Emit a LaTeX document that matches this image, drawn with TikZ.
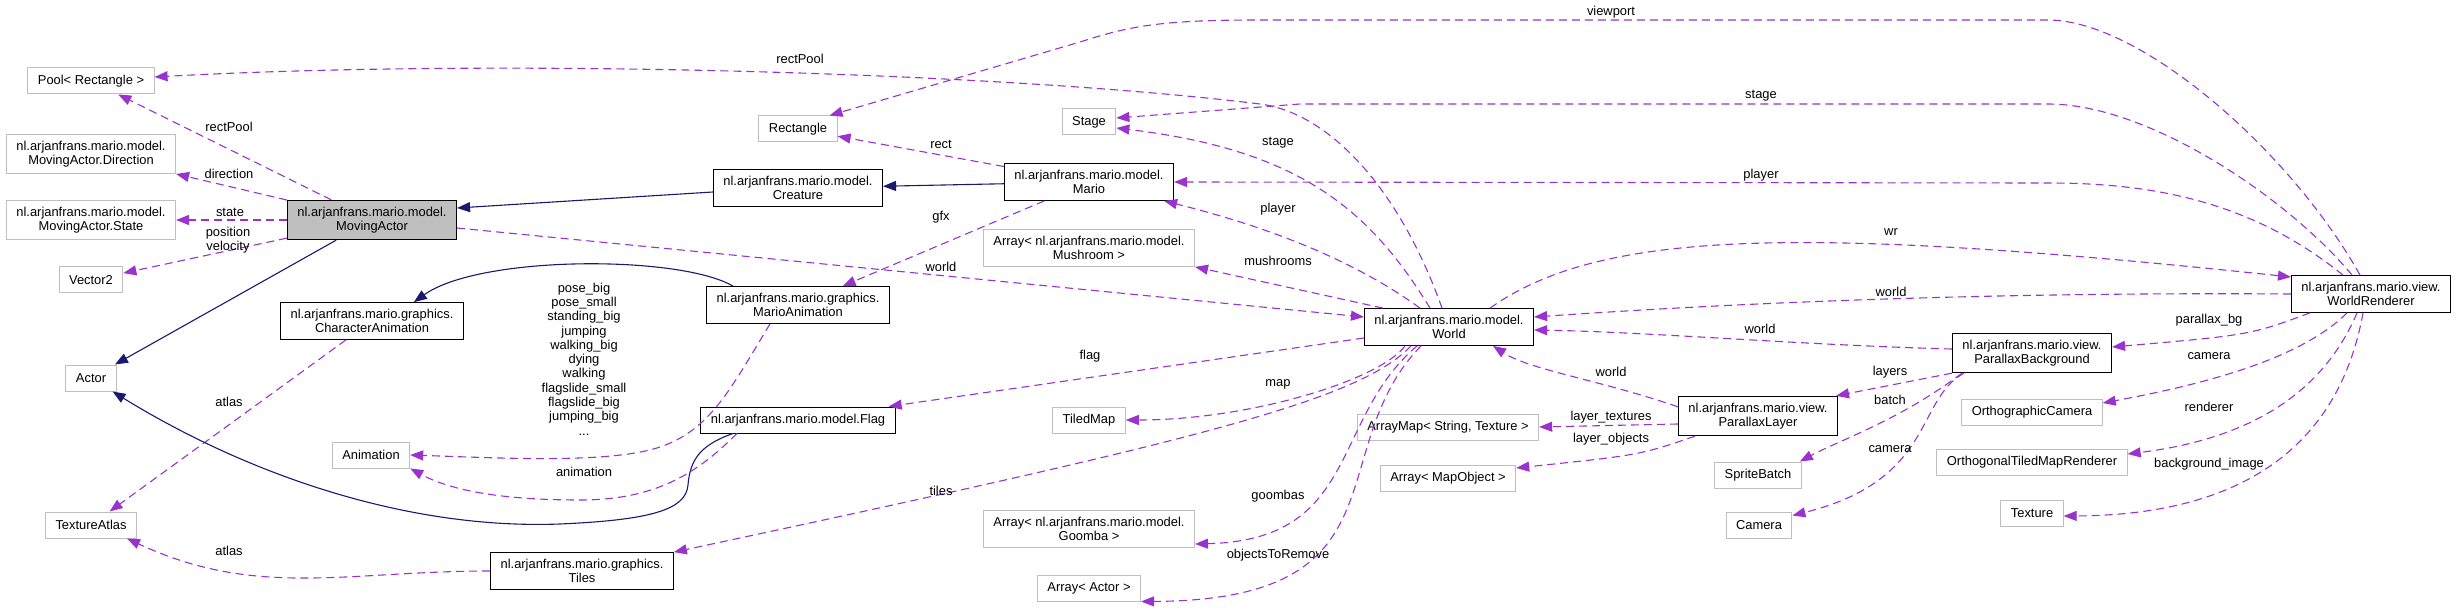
\documentclass[tikz,border=0pt]{standalone}
\usepackage{fontspec}
\setmainfont{Liberation Sans}
\usetikzlibrary{arrows.meta}

\definecolor{usecol}{HTML}{9A32CD}
\definecolor{isacol}{HTML}{191970}
\definecolor{extcol}{HTML}{BFBFBF}

\begin{document}
\begin{tikzpicture}
  [x=1pt,y=-1pt,every node/.style={font=\fontsize{12.9}{14.3}\selectfont},
   cls/.style={draw=black, line width=1pt, align=center, inner xsep=10pt, inner ysep=6.5pt, minimum height=26pt},
   ext/.style={cls, draw=extcol},
   uses/.style={draw=usecol, line width=1.1pt, dash pattern=on 8pt off 5pt, -{Triangle[length=13pt,width=10pt]}},
   isa/.style={draw=isacol, line width=1.1pt, -{Triangle[length=13pt,width=10pt]}},
   lbl/.style={inner sep=0pt, align=center}]
  \useasboundingbox (0,0) rectangle (2459,609);

  % classes
  \node[ext] (pool) at (91,81) {Pool< Rectangle >};
  \node[ext] (dir) at (91,154) {nl.arjanfrans.mario.model.\\MovingActor.Direction};
  \node[ext] (state) at (91,220) {nl.arjanfrans.mario.model.\\MovingActor.State};
  \node[ext] (vec) at (91,280) {Vector2};
  \node[ext] (actor) at (91,378) {Actor};
  \node[ext] (atlas) at (91,525) {TextureAtlas};
  \node[cls, fill=extcol] (moving) at (372,220) {nl.arjanfrans.mario.model.\\MovingActor};
  \node[cls] (charanim) at (372,321) {nl.arjanfrans.mario.graphics.\\CharacterAnimation};
  \node[ext] (anim) at (371,455) {Animation};
  \node[cls] (tiles) at (582,571) {nl.arjanfrans.mario.graphics.\\Tiles};
  \node[ext] (rect) at (798,129) {Rectangle};
  \node[cls] (creature) at (798,188) {nl.arjanfrans.mario.model.\\Creature};
  \node[cls] (marioanim) at (798,305) {nl.arjanfrans.mario.graphics.\\MarioAnimation};
  \node[cls] (flag) at (798,420) {nl.arjanfrans.mario.model.Flag};
  \node[ext] (stage) at (1089,122) {Stage};
  \node[cls] (mario) at (1089,182) {nl.arjanfrans.mario.model.\\Mario};
  \node[ext] (mushrooms) at (1089,248) {Array< nl.arjanfrans.mario.model.\\Mushroom >};
  \node[ext] (tiledmap) at (1089,420) {TiledMap};
  \node[ext] (goombas) at (1089,529) {Array< nl.arjanfrans.mario.model.\\Goomba >};
  \node[ext] (actors) at (1089,588) {Array< Actor >};
  \node[cls] (world) at (1449,327) {nl.arjanfrans.mario.model.\\World};
  \node[ext] (arraymap) at (1448,427) {ArrayMap< String, Texture >};
  \node[ext] (mapobj) at (1448,478) {Array< MapObject >};
  \node[cls] (layer) at (1758,416) {nl.arjanfrans.mario.view.\\ParallaxLayer};
  \node[ext] (batch) at (1758,475) {SpriteBatch};
  \node[ext] (camera) at (1759,525) {Camera};
  \node[cls] (bg) at (2032,353) {nl.arjanfrans.mario.view.\\ParallaxBackground};
  \node[ext] (ortho) at (2032,412) {OrthographicCamera};
  \node[ext] (otmr) at (2032,462) {OrthogonalTiledMapRenderer};
  \node[ext] (texture) at (2032,513) {Texture};
  \node[cls] (renderer) at (2371,294) {nl.arjanfrans.mario.view.\\WorldRenderer};

  % straight links
  \foreach \from/\to in {moving/pool,moving/dir,moving/state,moving/vec,mario/rect,mario/marioanim,charanim/atlas}
    \draw[uses] (\from) -- (\to);
  \foreach \from/\to in {moving/actor,mario/creature}
    \draw[isa] (\from) -- (\to);

  % inheritance
  \draw[isa] ([yshift=-4pt]creature.west) -- ([yshift=12pt]moving.east);
  \draw[isa] ([xshift=-65pt]marioanim.north) .. controls (680,255) and (480,255) .. ([xshift=-50pt]charanim.north east);
  \draw[isa] ([xshift=-65pt]flag.south) .. controls (700,445) and (690,460) .. (688,485)
    .. controls (686,510) and (650,520) .. (560,524)
    .. controls (400,530) and (240,470) .. ([xshift=-4pt]actor.south east);

  % left part
  \draw[uses] ([yshift=-8pt]moving.east) -- ([yshift=10pt]world.west);
  \draw[uses] (tiles.west) to[out=180,in=-25] ([xshift=-10pt]atlas.south east);
  \draw[uses] ([xshift=-28pt]marioanim.south) .. controls (730,390) and (710,430) .. (660,447)
    .. controls (610,464) and (500,458) .. (anim.east);
  \draw[uses] ([xshift=-61pt]flag.south) .. controls (700,470) and (660,500) .. (580,500)
    .. controls (500,500) and (450,490) .. (anim.south east);

  % world
  \draw[uses] ([xshift=-7pt]world.north) .. controls (1400,190) and (1330,113) .. (1260,104)
    .. controls (1000,72) and (500,58) .. ([yshift=4pt]pool.east);
  \draw[uses] ([xshift=-19pt]world.north) .. controls (1370,210) and (1300,150) .. ([yshift=-6pt]stage.east);
  \draw[uses] ([xshift=-29pt]world.north) .. controls (1340,250) and (1240,220) .. ([xshift=-10pt]mario.south east);
  \draw[uses] ([xshift=-66pt]world.north) -- (mushrooms.south east);
  \draw[uses] ([xshift=41pt]world.north) .. controls (1600,230) and (1800,225) .. ([yshift=17pt]renderer.west);
  \draw[uses] ([yshift=-11pt]world.west) -- ([xshift=-7pt]flag.north east);
  \draw[uses] ([xshift=-44pt]world.south) .. controls (1380,380) and (1250,420) .. (tiledmap.east);
  \draw[uses] ([xshift=-38pt]world.south) .. controls (1360,400) and (1200,440) .. (tiles.north east);
  \draw[uses] ([xshift=-32pt]world.south) .. controls (1330,420) and (1360,540) .. ([yshift=-15pt]goombas.east);
  \draw[uses] ([xshift=-28pt]world.south) .. controls (1320,450) and (1410,600) .. (actors.south east);

  % renderer
  \draw[uses] ([xshift=-11pt]renderer.north) .. controls (2290,150) and (2140,20) .. (2048,20) -- (1260,20)
    .. controls (1160,20) and (1130,26) .. (1080,42) -- ([xshift=-8pt]rect.north east);
  \draw[uses] ([xshift=-19pt]renderer.north) .. controls (2290,200) and (2150,104) .. (2048,104) -- (1300,104)
    -- ([yshift=4pt]stage.east);
  \draw[uses] ([xshift=-28pt]renderer.north) .. controls (2250,200) and (2150,183) .. (2048,183) -- (mario.east);
  \draw[uses] (renderer.west) .. controls (2000,292) and (1750,302) .. ([yshift=10pt]world.east);
  \draw[uses] ([xshift=-61pt]renderer.south) .. controls (2250,335) .. ([yshift=6pt]bg.east);
  \draw[uses] ([xshift=-24pt]renderer.south) .. controls (2300,360) and (2200,385) .. ([yshift=9pt]ortho.east);
  \draw[uses] ([xshift=-14pt]renderer.south) .. controls (2320,400) and (2240,440) .. ([yshift=8pt]otmr.east);
  \draw[uses] ([xshift=-8pt]renderer.south) .. controls (2340,440) and (2250,515) .. ([yshift=-3pt]texture.east);

  % parallax
  \draw[uses] ([yshift=4pt]bg.west) .. controls (1800,345) and (1650,332) .. ([yshift=-3pt]world.east);
  \draw[uses] ([yshift=-11pt]layer.north west) .. controls (1600,380) and (1530,370) .. ([xshift=44pt]world.south);
  \draw[uses] (bg.south west) -- ([xshift=-2pt]layer.north east);
  \draw[uses] ([xshift=10pt]bg.south west) .. controls (1900,420) and (1840,440) .. ([xshift=-2pt]batch.north east);
  \draw[uses] ([xshift=12pt]bg.south west) .. controls (1915,400) and (1935,480) .. ([yshift=-4pt]camera.north east);
  \draw[uses] ([yshift=-8pt]layer.west) -- (arraymap.east);
  \draw[uses] ([xshift=17pt]layer.south west) .. controls (1640,455) .. ([yshift=10pt]mapobj.east);

  % labels
  \node[lbl] (lrectpool1) at (229,127) {rectPool};
  \node[lbl] (ldir) at (229,174) {direction};
  \node[lbl] (lstate) at (230,212) {state};
  \node[lbl] (lposvel) at (228,240) {position\\velocity};
  \node[lbl] (latlas1) at (229,402) {atlas};
  \node[lbl] (latlas2) at (229,551) {atlas};
  \node[lbl] (lposes) at (584,359) {pose\_big\\pose\_small\\standing\_big\\jumping\\walking\_big\\dying\\walking\\flagslide\_small\\flagslide\_big\\jumping\_big\\...};
  \node[lbl] (lanim) at (584,472) {animation};
  \node[lbl] (lrectpool2) at (800,59) {rectPool};
  \node[lbl] (lrect) at (941,144) {rect};
  \node[lbl] (lgfx) at (941,217) {gfx};
  \node[lbl] (lworld1) at (941,267) {world};
  \node[lbl] (lflag) at (1090,356) {flag};
  \node[lbl] (ltiles) at (941,491) {tiles};
  \node[lbl] (lstage1) at (1278,143) {stage};
  \node[lbl] (lplayer1) at (1278,209) {player};
  \node[lbl] (lmush) at (1278,261) {mushrooms};
  \node[lbl] (lmap) at (1278,384) {map};
  \node[lbl] (lgoombas) at (1278,496) {goombas};
  \node[lbl] (lobjs) at (1278,555) {objectsToRemove};
  \node[lbl] (lviewport) at (1611,12) {viewport};
  \node[lbl] (lstage2) at (1761,96) {stage};
  \node[lbl] (lplayer2) at (1761,175) {player};
  \node[lbl] (lwr) at (1891,232) {wr};
  \node[lbl] (lworld2) at (1891,292) {world};
  \node[lbl] (lworld3) at (1760,329) {world};
  \node[lbl] (lworld4) at (1611,372) {world};
  \node[lbl] (llayers) at (1890,372) {layers};
  \node[lbl] (lbatch) at (1890,400) {batch};
  \node[lbl] (lcamera1) at (1890,449) {camera};
  \node[lbl] (ltex) at (1611,417) {layer\_textures};
  \node[lbl] (lobj) at (1611,439) {layer\_objects};
  \node[lbl] (lbg) at (2209,320) {parallax\_bg};
  \node[lbl] (lcamera2) at (2209,356) {camera};
  \node[lbl] (lrenderer) at (2209,407) {renderer};
  \node[lbl] (lbgimg) at (2209,464) {background\_image};
\end{tikzpicture}
\end{document}
